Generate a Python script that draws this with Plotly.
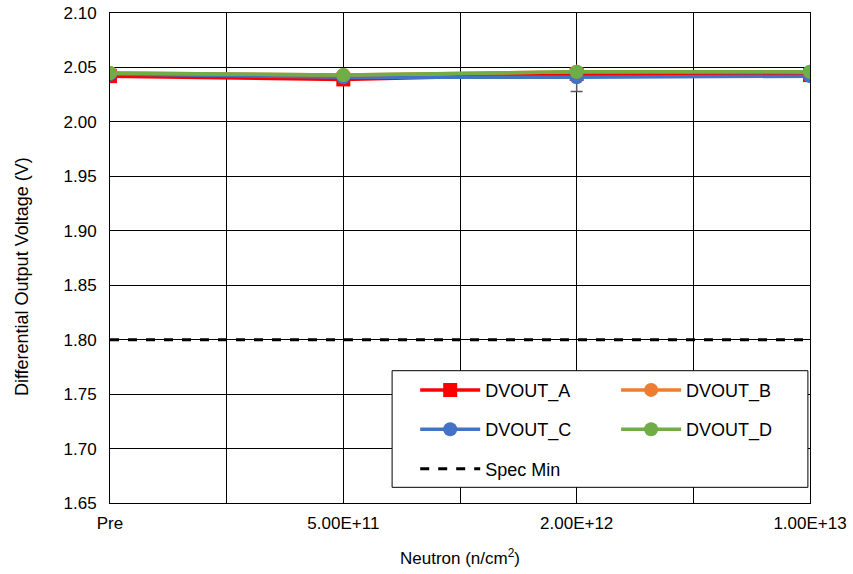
import plotly.graph_objects as go

categories = ["Pre", "5.00E+11", "2.00E+12", "1.00E+13"]
x_pos = [0, 1, 2, 3]
dvout_a = [2.042, 2.039, 2.044, 2.043]
dvout_b = [2.045, 2.043, 2.046, 2.046]
dvout_c = [2.044, 2.041, 2.041, 2.042]
dvout_d = [2.045, 2.043, 2.046, 2.046]
c_err_plus = [0.004, 0.002, 0.002, 0.002]
c_err_minus = [0.002, 0.002, 0.013, 0.002]
spec_min = [1.80, 1.80, 1.80, 1.80]

font = "Liberation Sans, Arial, sans-serif"
fig = go.Figure()

def add(name, y, color, symbol, legend, group, err=None):
    kw = {}
    if err is not None:
        kw["error_y"] = dict(type="data", symmetric=False, array=err[0], arrayminus=err[1],
                             color="#595959", thickness=1.5, width=6)
    fig.add_trace(go.Scatter(x=x_pos, y=y, name=name, mode="lines+markers",
                             line=dict(color=color, width=3.5),
                             marker=dict(color=color, symbol=symbol, size=14),
                             legend=legend, legendgroup=group, **kw))

add("DVOUT_A", dvout_a, "#FF0000", "square", "legend", "a")
add("DVOUT_C", dvout_c, "#4472C4", "circle", "legend", "c", (c_err_plus, c_err_minus))
add("DVOUT_B", dvout_b, "#ED7D31", "circle", "legend2", "b")
add("DVOUT_D", dvout_d, "#70AD47", "circle", "legend2", "d")
fig.add_trace(go.Scatter(x=x_pos, y=spec_min, name="Spec Min", mode="lines",
                         line=dict(color="black", width=3, dash="dash"),
                         legend="legend", legendgroup="s"))

legend_common = dict(font=dict(family=font, size=18, color="black"),
                     bgcolor="rgba(0,0,0,0)", borderwidth=0,
                     tracegroupgap=13, itemwidth=60, xanchor="left", yanchor="top")

fig.update_layout(
    width=853, height=574,
    margin=dict(l=110, r=43, t=13, b=71),
    paper_bgcolor="white", plot_bgcolor="white",
    font=dict(family=font, size=16, color="black"),
    showlegend=True,
    legend=dict(x=0.436, y=0.268, **legend_common),
    legend2=dict(x=0.723, y=0.268, **legend_common),
    xaxis=dict(range=[0, 3], tickvals=x_pos, ticktext=categories, automargin=False,
               showgrid=True, gridcolor="#000000", gridwidth=1,
               minor=dict(dtick=0.5, tick0=0, showgrid=True, gridcolor="#000000", gridwidth=1),
               showline=True, linecolor="black", linewidth=1, mirror=True,
               ticks="", zeroline=False, ticklabelstandoff=5,
               tickfont=dict(family=font, size=17, color="#000000"),
               title=dict(text="Neutron (n/cm<sup>2</sup>)", font=dict(family=font, size=17), standoff=19)),
    yaxis=dict(range=[1.65, 2.10], dtick=0.05, tickformat=".2f", automargin=False,
               showgrid=True, gridcolor="#000000", gridwidth=1,
               showline=True, linecolor="black", linewidth=1, mirror=True,
               ticks="", zeroline=False, ticklabelstandoff=9,
               tickfont=dict(family=font, size=17, color="#000000")),
)

fig.add_annotation(text="Differential Output Voltage (V)", textangle=-90,
                   xref="paper", yref="paper", x=-0.1257, y=0.461,
                   xanchor="center", yanchor="middle", showarrow=False,
                   font=dict(family=font, size=18, color="black"))

fig.add_shape(type="rect", xref="paper", yref="paper", x0=0.403, x1=0.997, y0=0.032, y1=0.27,
              line=dict(color="black", width=1), fillcolor="white", layer="above")

fig.write_html("out.html")
